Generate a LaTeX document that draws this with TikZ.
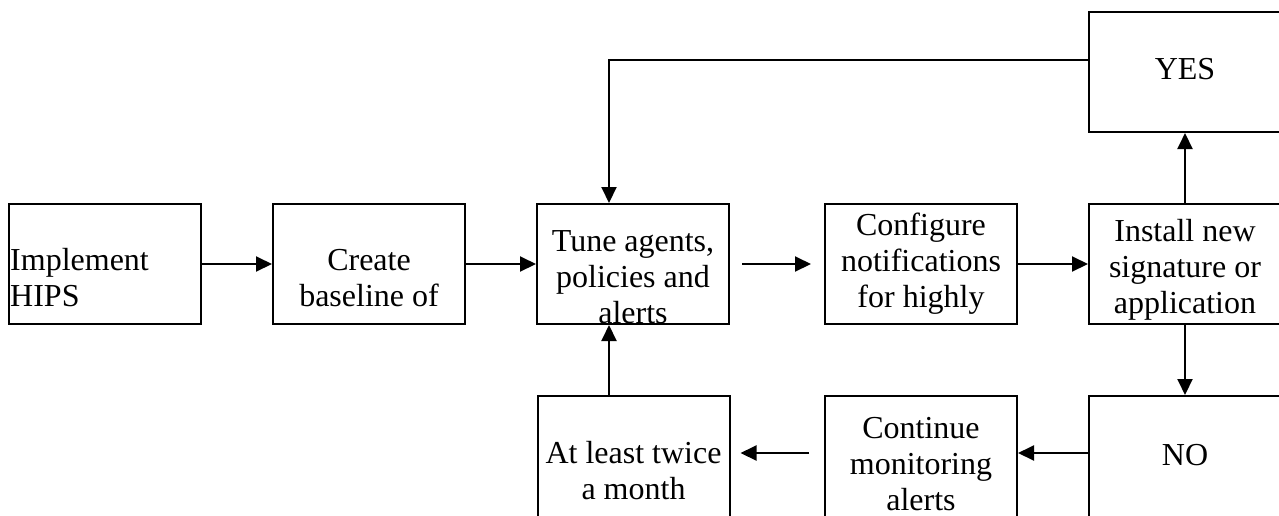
\documentclass[tikz,border=0pt]{standalone}
\usepackage{fontspec}
\setmainfont{Liberation Serif}
\usetikzlibrary{arrows.meta}
% first-line strut: fixes the distance from a text block's top to its first baseline
\newcommand\firstline{\rule{0pt}{25pt}}
\begin{document}
\begin{tikzpicture}[x=1pt,y=-1pt,
  stepbox/.style={draw, line width=2pt, rectangle, minimum width=192pt,
    minimum height=120pt, inner sep=0pt},
  lowbox/.style={stepbox, minimum height=124pt},
  txt/.style={font=\fontsize{32}{36}\selectfont, align=center, inner sep=0pt, anchor=north},
  arr/.style={line width=2pt, -{Triangle[length=16pt,width=15pt]}}]
\useasboundingbox (0,0) rectangle (1279,515);
\clip (0,0) rectangle (1279,515);

% boxes
\node[stepbox] (impl)   at (104.5,264) {};
\node[stepbox] (create) at (369,264) {};
\node[stepbox] (tune)   at (633,264) {};
\node[stepbox] (conf)   at (921,264) {};
\node[stepbox] (inst)   at (1185,264) {};
\node[stepbox] (yes)    at (1185,72) {};
\node[lowbox]  (no)     at (1185,458) {};
\node[lowbox]  (cont)   at (921,458) {};
\node[lowbox]  (least)  at (633.5,458) {};

% box texts, clipped to their frames
\begin{scope}
  \clip (impl.south west) rectangle (impl.north east);
  \node[txt, align=left, anchor=north west] (impl-t) at (10,245) {\firstline Implement\\HIPS};
\end{scope}
\begin{scope}
  \clip (create.south west) rectangle (create.north east);
  \node[txt] (create-t) at (369,245) {\firstline Create\\baseline of};
\end{scope}
\begin{scope}
  \clip (tune.south west) rectangle (tune.north east);
  \node[txt] (tune-t) at (633,226) {\firstline Tune agents,\\policies and\\alerts};
\end{scope}
\begin{scope}
  \clip (conf.south west) rectangle (conf.north east);
  \node[txt] (conf-t) at (921,210) {\firstline Configure\\notifications\\for highly};
\end{scope}
\begin{scope}
  \clip (inst.south west) rectangle (inst.north east);
  \node[txt] (inst-t) at (1185,216) {\firstline Install new\\signature or\\application};
\end{scope}
\node[txt] (yes-t)   at (1185,54)  {\firstline YES};
\node[txt] (no-t)    at (1185,440) {\firstline NO};
\node[txt] (cont-t)  at (921,413)  {\firstline Continue\\monitoring\\alerts};
\node[txt] (least-t) at (633.5,438) {\firstline At least twice\\a month};

% connectors
\draw[arr] (impl) -- (create);
\draw[arr] (create) -- (tune);
\draw[arr, shorten <=12pt, shorten >=13pt] (tune) -- (conf);
\draw[arr] (conf) -- (inst);
\draw[arr] (inst) -- (yes);
\draw[arr] (inst) -- (no);
\draw[arr] ([yshift=5pt]no.west) -- ([yshift=5pt]cont.east);
\draw[arr, shorten <=15pt, shorten >=10pt] ([yshift=5pt]cont.west) -- ([yshift=5pt]least.east);
\draw[arr] ([xshift=-24.5pt]least.north) -- ([xshift=-24pt]tune.south);
\draw[arr] ([yshift=12pt]yes.west) -| ([xshift=-24pt]tune.north);
\end{tikzpicture}
\end{document}
